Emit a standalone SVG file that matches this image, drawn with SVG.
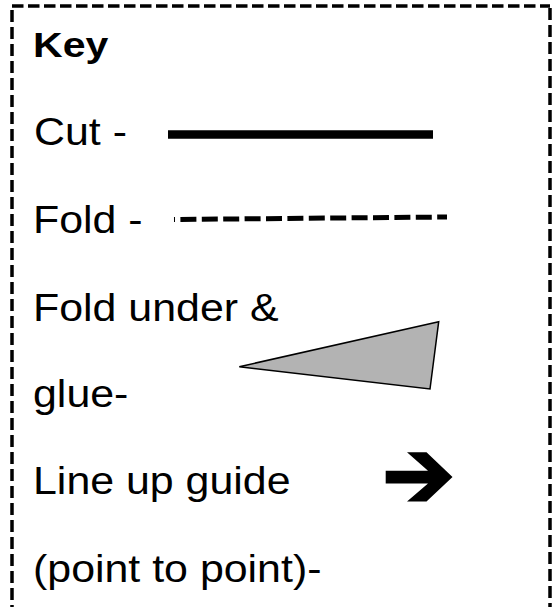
<svg xmlns="http://www.w3.org/2000/svg" width="558" height="607" viewBox="0 0 558 607">
  <style>
    .t { font-family: "Liberation Sans", Arial, sans-serif; font-size: 39px; fill: #000; }
    .b { font-weight: bold; font-size: 36px; }
    .border { fill: none; stroke: #000; stroke-width: 3.5; }
  </style>
  <rect width="558" height="607" fill="#fff"/>
  <g id="border">
    <path class="border" d="M12,6 H550" stroke-dasharray="11.5 4.5"/>
    <path class="border" d="M12,10 V607" stroke-dasharray="12 5"/>
    <path class="border" d="M550,8 V607" stroke-width="4" stroke-dasharray="12 5"/>
  </g>
  <g id="title">
    <text class="t b" transform="translate(33,57) scale(1.14,1)">Key</text>
  </g>
  <g id="cut">
    <text class="t" transform="translate(34,145) scale(1.1,1)">Cut -</text>
    <line x1="168" y1="134.5" x2="433" y2="134.5" stroke="#000" stroke-width="8.5"/>
  </g>
  <g id="fold">
    <text class="t" transform="translate(33,233) scale(1.1,1)">Fold -</text>
    <line x1="174" y1="219.5" x2="447" y2="217" stroke="#000" stroke-width="5" stroke-dasharray="16 5.4" stroke-dashoffset="15"/>
  </g>
  <g id="glue">
    <text class="t" transform="translate(33,321) scale(1.1,1)">Fold under &amp;</text>
    <text class="t" transform="translate(33,407) scale(1.1,1)">glue-</text>
    <polygon points="239.3,366.7 438.7,321.7 430,389" fill="#b3b3b3" stroke="#000" stroke-width="1.5" stroke-linejoin="miter"/>
  </g>
  <g id="guide">
    <text class="t" transform="translate(33,494) scale(1.1,1)">Line up guide</text>
    <text class="t" transform="translate(33,582) scale(1.1,1)">(point to point)-</text>
    <polygon points="385.7,470.7 428,470.7 407,452.3 426.5,452.3 452.5,477 426.5,501.5 407,501.5 428,483.5 385.7,483.5" fill="#000"/>
  </g>
</svg>
